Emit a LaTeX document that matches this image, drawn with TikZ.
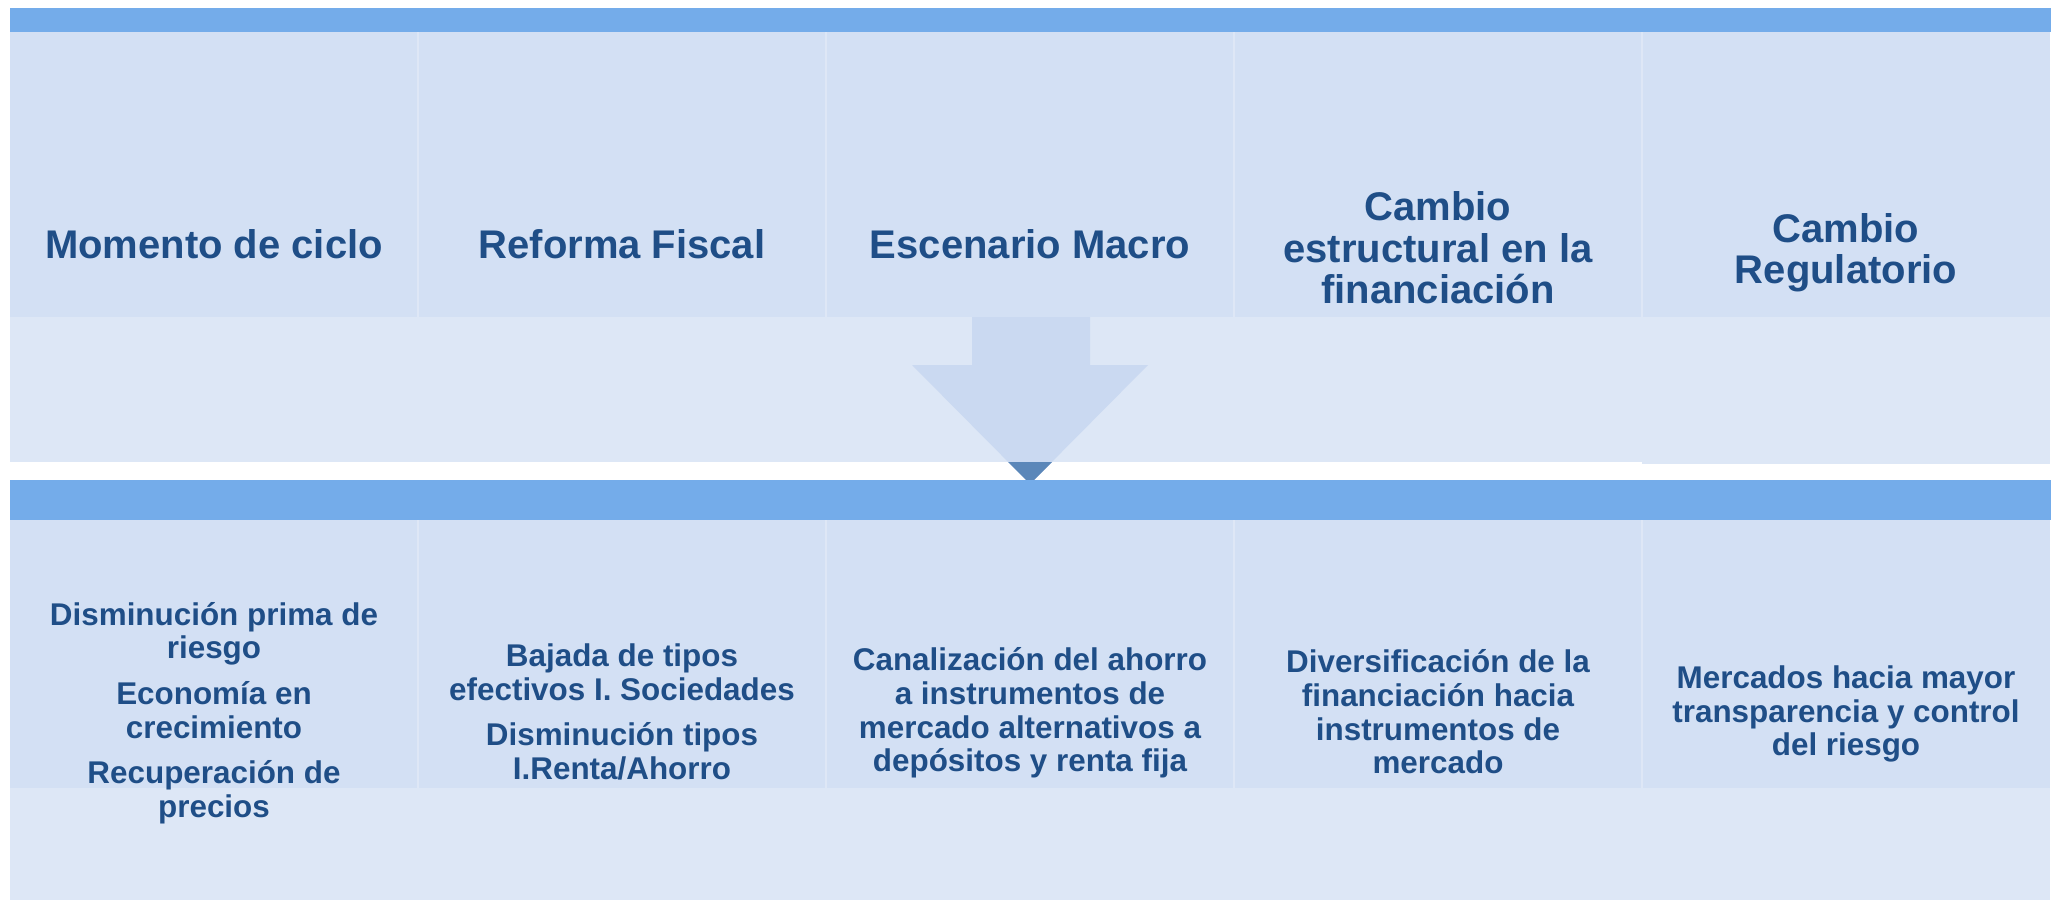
\documentclass[tikz,border=0pt]{standalone}
\usepackage{fontspec}
\setmainfont{Liberation Sans}
\definecolor{barblue}{RGB}{116,172,234}
\definecolor{densefill}{RGB}{211,224,244}
\definecolor{lightfill}{RGB}{221,231,246}
\definecolor{arrowfill}{RGB}{202,217,241}
\definecolor{arrowdark}{RGB}{91,135,185}
\definecolor{seam}{RGB}{222,231,246}
\definecolor{txtblue}{RGB}{31,78,135}
\tikzset{
  titletext/.style={text=txtblue,font=\fontsize{20}{20.7}\selectfont\bfseries,align=center,inner sep=0pt},
  itemtext/.style={text=txtblue,font=\fontsize{15.7}{16.85}\selectfont\bfseries,align=center,inner sep=0pt},
}
\begin{document}
\begin{tikzpicture}[x=0.5pt,y=-0.5pt]
\useasboundingbox (0,0) rectangle (2056,900);
% top bar
\fill[barblue] (10,8) rectangle (2051,32);
% panel columns
\foreach \i in {0,...,4}{
  \pgfmathsetmacro{\xa}{10+408*\i}
  \pgfmathsetmacro{\xb}{10+408*(\i+1)}
  \fill[densefill] (\xa,32) rectangle (\xb,317);
  \fill[lightfill] (\xa,317) rectangle (\xb,462);
  \fill[densefill] (\xa,520) rectangle (\xb,788);
  \fill[lightfill] (\xa,788) rectangle (\xb,900);
}
\fill[lightfill] (1642,462) rectangle (2050,464);
\foreach \x in {418,826,1234,1642}{
  \draw[seam,line width=0.8pt] (\x,32) -- (\x,317);
  \draw[seam,line width=0.8pt] (\x,520) -- (\x,788);
}
% arrow
\fill[arrowfill] (972,317) -- (1090,317) -- (1090,365) -- (1148,365) -- (1030,484) -- (912,365) -- (972,365) -- cycle;
\fill[arrowdark] (1008,462) -- (1052,462) -- (1030,484) -- cycle;
% second bar
\fill[barblue] (10,480) rectangle (2051,520);
% titles
\node[titletext] (t1) at (214,244) {Momento de ciclo};
\node[titletext] (t2) at (622,244) {Reforma Fiscal};
\node[titletext] (t3) at (1030,244) {Escenario Macro};
\node[titletext] (t4) at (1438,248) {Cambio\\estructural en la\\financiación};
\node[titletext] (t5) at (1846,253) {Cambio\\Regulatorio};
% items
\node[itemtext] (b1) at (214,713) {Disminución prima de\\riesgo\\[5.9pt]Economía en\\crecimiento\\[5.9pt]Recuperación de\\precios};
\node[itemtext] (b2) at (622,712) {Bajada de tipos\\efectivos I. Sociedades\\[5.9pt]Disminución tipos\\I.Renta/Ahorro};
\node[itemtext] (b3) at (1030,713) {Canalización del ahorro\\a instrumentos de\\mercado alternativos a\\depósitos y renta fija};
\node[itemtext] (b4) at (1438,712) {Diversificación de la\\financiación hacia\\instrumentos de\\mercado};
\node[itemtext] (b5) at (1846,714) {Mercados hacia mayor\\transparencia y control\\del riesgo};
\end{tikzpicture}
\end{document}
